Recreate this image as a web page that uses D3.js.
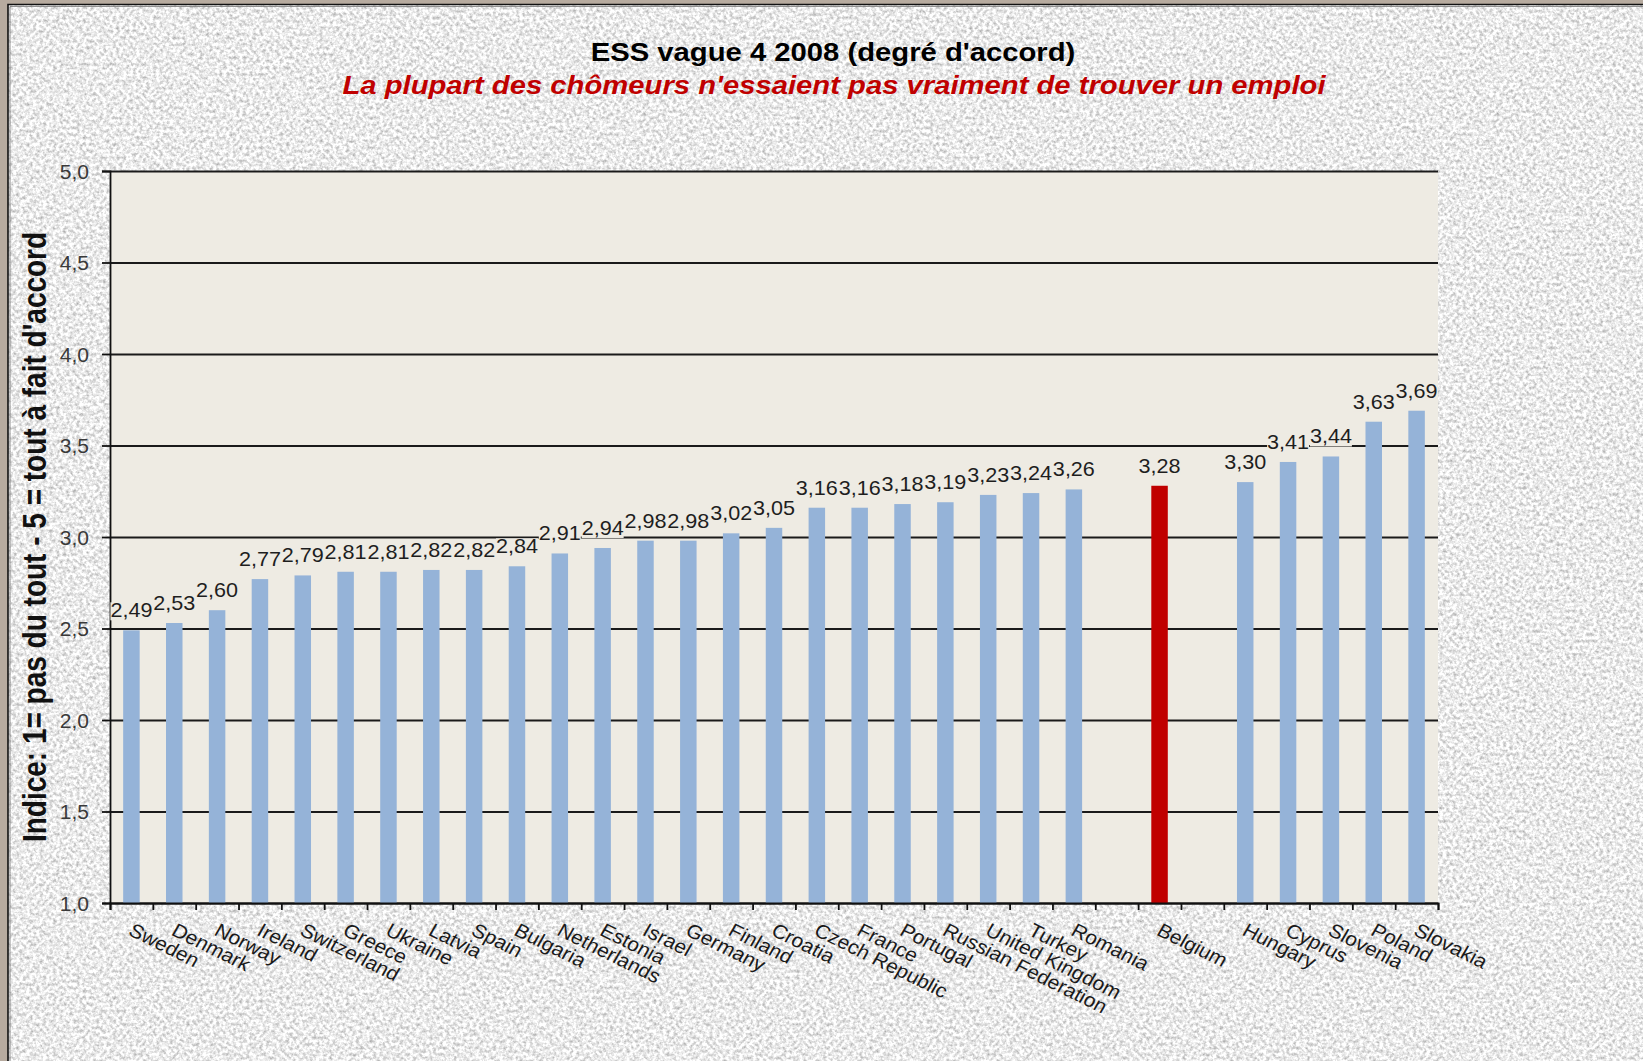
<!DOCTYPE html>
<html>
<head>
<meta charset="utf-8">
<script src="https://cdn.jsdelivr.net/npm/d3@7"></script>
<style>
  body { margin: 0; background: #b7ab9f; }
  svg { display: block; font-family: "Liberation Sans", Arial, sans-serif; }
</style>
</head>
<body>
<svg id="chart" width="1643" height="1061"></svg>
<script>
// data ("" = empty slot in the category axis)
const countries = ['Sweden', 'Denmark', 'Norway', 'Ireland', 'Switzerland', 'Greece', 'Ukraine', 'Latvia',
  'Spain', 'Bulgaria', 'Netherlands', 'Estonia', 'Israel', 'Germany', 'Finland', 'Croatia', 'Czech Republic',
  'France', 'Portugal', 'Russian Federation', 'United Kingdom', 'Turkey', 'Romania', '', 'Belgium', '',
  'Hungary', 'Cyprus', 'Slovenia', 'Poland', 'Slovakia']
const scores = [2.49, 2.53, 2.60, 2.77, 2.79, 2.81, 2.81, 2.82,
  2.82, 2.84, 2.91, 2.94, 2.98, 2.98, 3.02, 3.05, 3.16,
  3.16, 3.18, 3.19, 3.23, 3.24, 3.26, null, 3.28, null,
  3.30, 3.41, 3.44, 3.63, 3.69]
const highlighted = 'Belgium'
const yTicks = [1.0, 1.5, 2.0, 2.5, 3.0, 3.5, 4.0, 4.5, 5.0]
const chartTitle = "ESS vague 4 2008 (degré d'accord)"
const chartSubtitle = "La plupart des chômeurs n'essaient pas vraiment de trouver un emploi"
const yLabel = "Indice: 1= pas du tout - 5 = tout à fait d'accord"

const W = 1643, H = 1061
const SX = 1.17 // the original picture is stretched sideways, titles too
const SXS = 1.08 // smaller texts
const plot = { left: 110, right: 1438, top: 171, bottom: 903 }
const comma = d3.formatLocale({ decimal: ',', thousands: ' ', grouping: [3], currency: ['', ''] })

const svg = d3.select('#chart')

// granite paper background
const defs = svg.append('defs')
const grain = defs.append('filter').attr('id', 'granite')
  .attr('x', 0).attr('y', 0).attr('width', '100%').attr('height', '100%')
  .attr('color-interpolation-filters', 'sRGB')
grain.append('feTurbulence').attr('type', 'fractalNoise')
  .attr('baseFrequency', 0.3).attr('numOctaves', 3).attr('seed', 7)
grain.append('feColorMatrix').attr('type', 'matrix')
  .attr('values', '0.6 0 0 0 0.62  0.6 0 0 0 0.62  0.6 0 0 0 0.62  0 0 0 0 1')

svg.append('rect').attr('width', W).attr('height', H).attr('fill', '#b7ab9f')
svg.append('rect').attr('x', 8).attr('y', 4).attr('width', W - 8).attr('height', H - 4)
  .attr('filter', 'url(#granite)')
svg.append('path').attr('d', `M8,${H}V4.5H${W}`).attr('fill', 'none')
  .attr('stroke', '#111').attr('stroke-width', 1.6)
svg.append('path').attr('d', `M10,${H}V6.5H${W}`).attr('fill', 'none')
  .attr('stroke', '#777').attr('stroke-width', 0.8)

// scales
const x = d3.scaleBand()
  .domain(d3.range(countries.length))
  .range([plot.left, plot.right])
  .paddingInner(0.615)
  .paddingOuter(0.3075)
const xEdges = d3.scaleLinear().domain([0, countries.length]).range([plot.left, plot.right])
const y = d3.scaleLinear().domain([1, 5]).range([plot.bottom, plot.top])

// plot area
svg.append('rect')
  .attr('x', plot.left).attr('y', plot.top)
  .attr('width', plot.right - plot.left).attr('height', plot.bottom - plot.top)
  .attr('fill', '#eeebe3')

svg.append('g')
  .attr('transform', `translate(${plot.left},0)`)
  .call(d3.axisLeft(y).tickValues(yTicks).tickSize(-(plot.right - plot.left)).tickFormat(''))
  .call(g => g.select('.domain').remove())
  .call(g => g.selectAll('line').attr('stroke', '#1a1a1a').attr('stroke-width', 2))

const rows = countries.map((c, i) => ({ country: c, i: i, v: scores[i] })).filter(d => d.v != null)

svg.append('g').selectAll('rect')
  .data(rows)
  .join('rect')
  .attr('x', d => x(d.i))
  .attr('y', d => y(d.v))
  .attr('width', x.bandwidth())
  .attr('height', d => y(1) - y(d.v))
  .attr('fill', d => d.country === highlighted ? '#c00000' : '#95b3d8')

// axes
const yAxis = svg.append('g')
  .attr('transform', `translate(${plot.left},0)`)
  .call(d3.axisLeft(y).tickValues(yTicks).tickSize(8).tickFormat(comma.format('.1f')))
yAxis.selectAll('line, path').attr('stroke', '#111').attr('stroke-width', 1.8)
yAxis.selectAll('text')
  .attr('x', null).attr('dy', null)
  .attr('transform', `translate(-21,7) scale(${SXS},1)`)
  .attr('font-size', 19.5).attr('font-family', '"Liberation Sans", Arial, sans-serif')
  .attr('fill', '#3a3a3a')

const xAxis = svg.append('g')
  .attr('transform', `translate(0,${plot.bottom})`)
  .call(d3.axisBottom(xEdges).tickValues(d3.range(countries.length + 1)).tickSize(7).tickFormat(''))
xAxis.selectAll('line, path').attr('stroke', '#111').attr('stroke-width', 1.8)

// category labels, slanted
svg.append('g').selectAll('text')
  .data(countries.map((c, i) => ({ country: c, i: i })).filter(d => d.country !== ''))
  .join('text')
  .attr('transform', d => `translate(${x(d.i) + x.bandwidth() / 2 + 3},${plot.bottom + 19}) scale(${SXS},1) rotate(28)`)
  .attr('dy', '0.72em')
  .attr('font-size', 19.5)
  .attr('fill', '#1a1a1a')
  .text(d => d.country)

// value labels
const valueLabels = svg.append('g').selectAll('g')
  .data(rows)
  .join('g')
  .attr('transform', d => `translate(${x(d.i) + x.bandwidth() / 2},${y(d.v) - 13}) scale(${SXS},1)`)
valueLabels.append('text')
  .attr('text-anchor', 'middle')
  .attr('font-size', 20)
  .attr('fill', '#1e1e1e')
  .text(d => comma.format('.2f')(d.v))
valueLabels.insert('rect', 'text')
  .each(function () {
    const b = this.parentNode.querySelector('text').getBBox()
    d3.select(this).attr('x', b.x).attr('width', b.width).attr('y', -15).attr('height', 18)
  })
  .attr('fill', '#eeebe3')

// titles
svg.append('text')
  .attr('transform', `translate(833,61) scale(${SX},1)`)
  .attr('text-anchor', 'middle')
  .attr('font-size', 25).attr('font-weight', 'bold').attr('fill', '#000')
  .text(chartTitle)
svg.append('text')
  .attr('transform', `translate(834,94) scale(${SX},1)`)
  .attr('text-anchor', 'middle')
  .attr('font-size', 25).attr('font-weight', 'bold').attr('font-style', 'italic').attr('fill', '#c00000')
  .text(chartSubtitle)
svg.append('text')
  .attr('transform', `translate(46,${(plot.top + plot.bottom) / 2}) scale(${SX},1) rotate(-90)`)
  .attr('text-anchor', 'middle')
  .attr('font-size', 28).attr('font-weight', 'bold').attr('fill', '#111')
  .text(yLabel)
</script>
</body>
</html>
